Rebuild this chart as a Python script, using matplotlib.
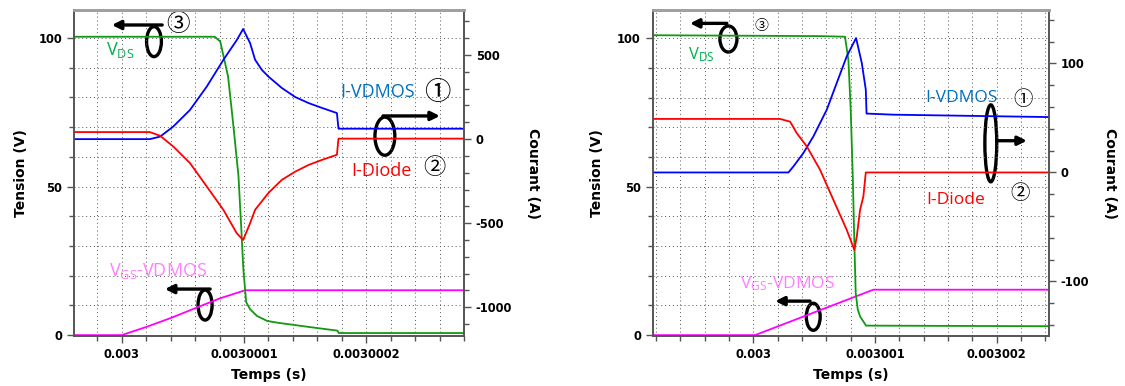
import matplotlib

matplotlib.use("Agg")
import matplotlib.pyplot as plt
import numpy as np
from matplotlib.patches import Ellipse
from matplotlib.ticker import FuncFormatter, MultipleLocator

plt.rcParams["font.family"] = "DejaVu Sans"
plt.rcParams["font.weight"] = "bold"
plt.rcParams["axes.unicode_minus"] = False
plt.rcParams["mathtext.fontset"] = "custom"
plt.rcParams["mathtext.rm"] = "Open Sans:normal"

T0 = 0.003  # s, switching instant used as reference

# %% left panel, time read off in ns after T0
ta_vds = [-39, 76, 80.6, 87, 91.4, 95.5, 97.7, 99.5, 101.8, 105, 110.5, 118.7, 127, 154, 176.5, 177.5, 280]
vds_a = [100.4, 100.4, 98.8, 87, 70.2, 53.5, 36.7, 22.1, 11.1, 8.7, 6.5, 4.8, 4.2, 2.7, 1.5, 0.7, 0.7]
ta_vgs = [-39, 0, 20.5, 41, 61, 80.5, 101, 280]
vgs_a = [0, 0, 2.8, 5.9, 9.2, 12.4, 15.1, 15.1]
ta_i = [-39, 23, 31.4, 42.2, 55.9, 69.6, 83.2, 94.1, 99.3, 105, 109.1, 114.6, 120, 131, 142, 153, 164, 176, 177.3, 280]
ivdmos_a = [0, 0, 15, 75, 174, 313, 472, 589, 655, 571, 472, 412, 372, 304, 250, 214, 185, 155, 62, 62]
idiode_a = [42, 42, 20, -44, -143, -282, -421, -560, -600, -500, -420, -370, -320, -242, -193, -153, -123, -93, 3, 3]

# %% right panel, time read off in us after T0
tb_vds = [-0.83, 0.55, 0.753, 0.781, 0.80, 0.817, 0.83, 0.841, 0.858, 0.877, 0.926, 2.43]
vds_b = [101.0, 100.7, 100.5, 92.7, 75.9, 53.4, 31.0, 14.2, 8.6, 6.3, 3.2, 3.0]
tb_vgs = [-0.83, 0.014, 0.986, 2.43]
vgs_b = [0, 0, 15.3, 15.3]
tb_ivd = [-0.83, 0.288, 0.329, 0.411, 0.493, 0.603, 0.685, 0.767, 0.844, 0.891, 0.924, 0.93, 1.15, 2.43]
ivdmos_b = [0, 0, 5.5, 17.8, 33, 57.5, 82, 106.4, 123.3, 100.4, 75.9, 54, 53, 50.8]
tb_idi = [-0.83, 0.219, 0.302, 0.357, 0.439, 0.548, 0.657, 0.767, 0.83, 0.85, 0.877, 0.904, 0.924, 2.43]
idiode_b = [49.1, 49.1, 46.6, 36, 23.9, 2.5, -25, -52.6, -71, -58.7, -34.2, -22, 0, 0]

GREEN, MAGENTA, BLUE, RED = "#119911", "#ff00ff", "#0000ff", "#ff0000"
TXT = dict(fontfamily="Open Sans", fontweight="normal", ha="center", va="center")
CIRC = dict(fontfamily=["Noto Sans CJK JP", "DejaVu Sans"], fontweight="normal", ha="center", va="center")


def fmt_time(v, _pos):
    return f"{v:.7f}".rstrip("0")


def setup(ax, ax2, xlim, xstep, ylim, y2lim, y2step, y2minor):
    ax.set_xlim(*xlim)
    ax.xaxis.set_major_locator(MultipleLocator(xstep))
    ax.xaxis.set_minor_locator(MultipleLocator(xstep / 5))
    ax.xaxis.set_major_formatter(FuncFormatter(fmt_time))
    ax.set_ylim(*ylim)
    ax.yaxis.set_major_locator(MultipleLocator(50))
    ax.yaxis.set_minor_locator(MultipleLocator(10))
    ax2.set_ylim(*y2lim)
    ax2.yaxis.set_major_locator(MultipleLocator(y2step))
    ax2.yaxis.set_minor_locator(MultipleLocator(y2minor))
    ax.grid(which="both", color="#555555", linestyle=(0, (1, 3)), linewidth=0.7)
    for a in (ax, ax2):
        a.tick_params(which="both", direction="out", labelsize=8.3, color="#555555", width=1)
        a.tick_params(which="major", length=5)
        a.tick_params(which="minor", length=3.5)
        for side in ("left", "right", "bottom"):
            a.spines[side].set_color("#555555")
            a.spines[side].set_linewidth(1.2)
        a.spines["top"].set_color("#a0a0a0")
        a.spines["top"].set_linewidth(2)
    ax.set_xlabel("Temps (s)", fontsize=10, fontweight="bold")
    ax.xaxis.set_label_coords(0.5, -0.098)
    ax.set_ylabel("Tension (V)", fontsize=10, fontweight="bold", va="center")
    ax2.set_ylabel("Courant (A)", fontsize=10, fontweight="bold", rotation=270, va="center")


def label(ax, x, y, s, **kw):
    ax.text(x, y, s, transform=ax.transAxes, **kw)


def callout(ax, cx, cy, w, h, start, end):
    ax.add_patch(Ellipse((cx, cy), w, h, transform=ax.transAxes, fill=False, lw=2.4, ec="black", clip_on=False))
    ax.annotate("", xy=end, xytext=start, xycoords="axes fraction", textcoords="axes fraction",
                arrowprops=dict(arrowstyle="-|>", mutation_scale=13, lw=2.4, color="black", shrinkA=0, shrinkB=0))


fig = plt.figure(figsize=(11.25, 3.86), dpi=100)
ax_a = fig.add_axes([0.0658, 0.1295, 0.3467, 0.8446])
ax_a2 = ax_a.twinx()
ax_b = fig.add_axes([0.5802, 0.1295, 0.3523, 0.8446])
ax_b2 = ax_b.twinx()

# left panel
ns = 1e-9
ax_a.plot(T0 + np.array(ta_vgs) * ns, vgs_a, color=MAGENTA, lw=1.3)
ax_a.plot(T0 + np.array(ta_vds) * ns, vds_a, color=GREEN, lw=1.3)
ax_a2.plot(T0 + np.array(ta_i) * ns, ivdmos_a, color=BLUE, lw=1.3)
ax_a2.plot(T0 + np.array(ta_i) * ns, idiode_a, color=RED, lw=1.3)
setup(ax_a, ax_a2, (T0 - 39 * ns, T0 + 280 * ns), 1e-7, (-0.3, 109.4), (-1171, 768), 500, 100)
ax_a.yaxis.set_label_coords(-0.136, 0.5)
ax_a2.yaxis.set_label_coords(1.177, 0.5)

label(ax_a, 0.118, 0.877, r"$\mathrm{V_{DS}}$", color="#00b050", fontsize=13, **TXT)
label(ax_a, 0.267, 0.957, "③", fontsize=17, **CIRC)
callout(ax_a, 0.205, 0.903, 0.038, 0.092, (0.226, 0.954), (0.097, 0.954))
label(ax_a, 0.779, 0.748, "I-VDMOS", color="#0070c0", fontsize=13, **TXT)
label(ax_a, 0.931, 0.748, "①", fontsize=19, **CIRC)
callout(ax_a, 0.797, 0.613, 0.051, 0.117, (0.792, 0.675), (0.938, 0.675))
label(ax_a, 0.787, 0.506, "I-Diode", color="#ff0000", fontsize=13, **TXT)
label(ax_a, 0.923, 0.518, "②", fontsize=16, **CIRC)
label(ax_a, 0.215, 0.199, r"$\mathrm{V_{GS}}$-VDMOS", color="#ff80ff", fontsize=13, **TXT)
callout(ax_a, 0.336, 0.095, 0.036, 0.092, (0.349, 0.144), (0.233, 0.144))

# right panel
us = 1e-6
ax_b.plot(T0 + np.array(tb_vgs) * us, vgs_b, color=MAGENTA, lw=1.3)
ax_b.plot(T0 + np.array(tb_vds) * us, vds_b, color=GREEN, lw=1.3)
ax_b2.plot(T0 + np.array(tb_ivd) * us, ivdmos_b, color=BLUE, lw=1.3)
ax_b2.plot(T0 + np.array(tb_idi) * us, idiode_b, color=RED, lw=1.3)
setup(ax_b, ax_b2, (T0 - 0.827 * us, T0 + 2.43 * us), 1e-6, (-0.3, 109.5), (-150, 149), 100, 20)
ax_b.yaxis.set_label_coords(-0.14, 0.5)
ax_b2.yaxis.set_label_coords(1.154, 0.5)

label(ax_b, 0.122, 0.862, r"$\mathrm{V_{DS}}$", color="#00b050", fontsize=12, **TXT)
label(ax_b, 0.275, 0.951, "③", fontsize=10, **CIRC)
callout(ax_b, 0.191, 0.911, 0.043, 0.08, (0.187, 0.959), (0.094, 0.959))
label(ax_b, 0.778, 0.73, "I-VDMOS", color="#0070c0", fontsize=12.5, **TXT)
label(ax_b, 0.934, 0.724, "①", fontsize=14, **CIRC)
callout(ax_b, 0.853, 0.591, 0.03, 0.236, (0.868, 0.599), (0.944, 0.599))
label(ax_b, 0.763, 0.417, "I-Diode", color="#ff0000", fontsize=12.5, **TXT)
label(ax_b, 0.927, 0.436, "②", fontsize=14, **CIRC)
label(ax_b, 0.339, 0.16, r"$\mathrm{V_{GS}}$-VDMOS", color="#ff80ff", fontsize=12.5, **TXT)
callout(ax_b, 0.405, 0.059, 0.035, 0.083, (0.397, 0.107), (0.309, 0.107))

fig.savefig("out.png", dpi=100)
